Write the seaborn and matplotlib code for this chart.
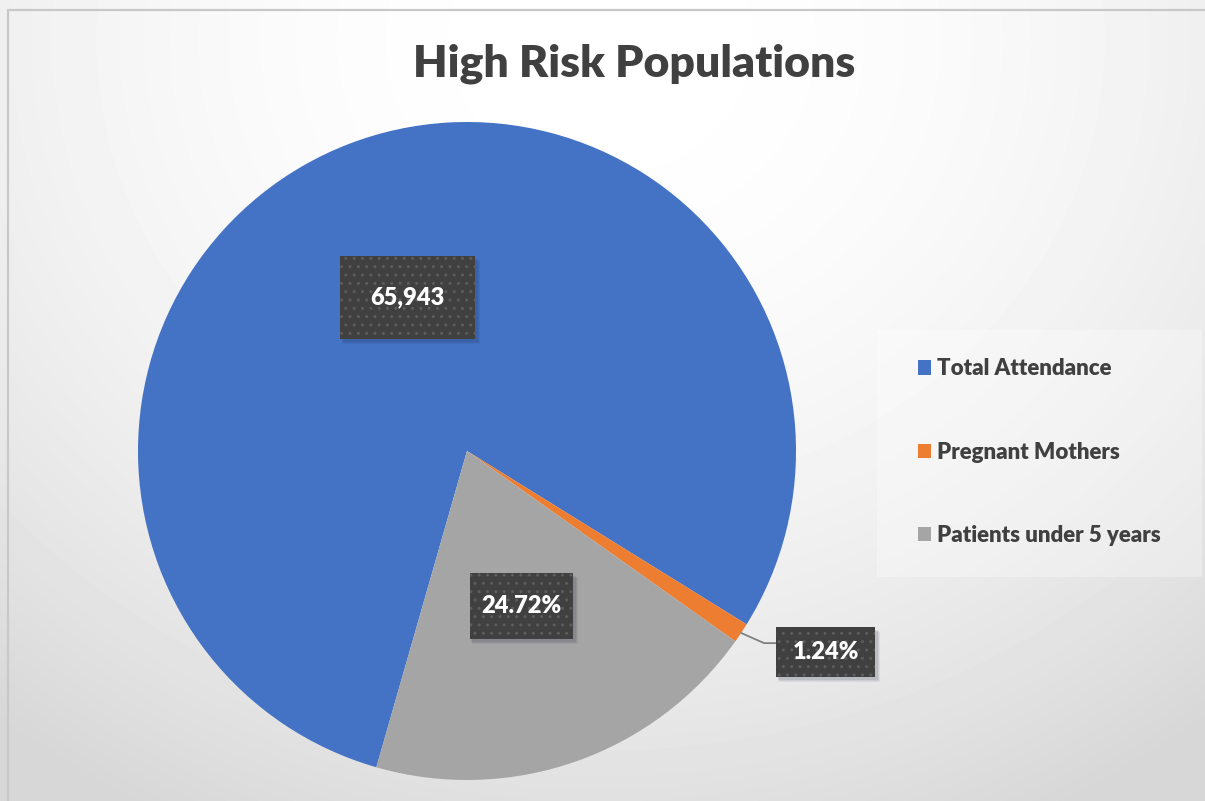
import matplotlib
matplotlib.use("Agg")
import matplotlib.pyplot as plt
import matplotlib.patches as mpatches
import matplotlib.transforms as mtransforms
import numpy as np
import seaborn as sns

# data
categories = ["Total Attendance", "Pregnant Mothers", "Patients under 5 years"]
counts = [65943, 818, 16301]
colors = ["#4472C4", "#ED7D31", "#A5A5A5"]

W, H = 1205, 801
sns.set_theme(style="white")
plt.rcParams["font.family"] = ["Lato", "DejaVu Sans"]

fig = plt.figure(figsize=(W / 100, H / 100), dpi=100)

# background: soft radial grey gradient, like the Excel chart area
bg = fig.add_axes([0, 0, 1, 1], zorder=0)
yy, xx = np.mgrid[0:H, 0:W]
drop = 15 * ((xx - 600) / 590) ** 2 + 30 * ((yy - 40) / 750) ** 2
drop = np.clip(drop, 0, 40)
grey = (255 - drop) / 255
bg.imshow(grey, cmap="gray", vmin=0, vmax=1, extent=(0, W, H, 0), aspect="auto")
bg.set_xlim(0, W)
bg.set_ylim(H, 0)
bg.plot([8, 8], [10, H], color="#c8c8c8", lw=1.6)
bg.plot([8, W], [10, 10], color="#c8c8c8", lw=1.6)
bg.add_patch(mpatches.Rectangle((877, 330), 325, 247, fc="white", ec="none", alpha=0.3))
bg.axis("off")

# pie
cx, cy, R = 467, 451, 329
ax = fig.add_axes([(cx - R) / W, (H - cy - R) / H, 2 * R / W, 2 * R / H], zorder=1)
wedges, _ = ax.pie(counts, colors=colors, startangle=-106, counterclock=False,
                   wedgeprops=dict(linewidth=0))
ax.set_xlim(-1, 1)
ax.set_ylim(-1, 1)
ax.set_aspect("auto")
ax.axis("off")

total_att = counts[0]
label_texts = [f"{counts[0]:,}",
               f"{counts[1] / total_att * 100:.2f}%",
               f"{counts[2] / total_att * 100:.2f}%"]
box_sizes = [(135, 83), (99, 50), (103, 66)]  # pixels


def label_box(x, y, text, size):
    bw, bh = size[0] / 100, size[1] / 100
    trans = fig.dpi_scale_trans + mtransforms.ScaledTranslation(x, y, ax.transData)
    for k, a in [(5, 0.06), (4, 0.08), (3, 0.1)]:
        ax.add_patch(mpatches.Rectangle((-bw / 2 + k / 200, -bh / 2 - k / 100), bw + k / 200, bh,
                                        transform=trans, fc="#1f2a44", ec="none",
                                        alpha=a, clip_on=False, zorder=3))
    ax.add_patch(mpatches.Rectangle((-bw / 2, -bh / 2), bw, bh, transform=trans,
                                    fc="#404040", ec="#5c5c5c", lw=0, hatch="..",
                                    clip_on=False, zorder=4))
    ax.text(x, y, text, ha="center", va="center", color="white", fontsize=17,
            fontweight="heavy", zorder=5, clip_on=False)


for i, w in enumerate(wedges):
    mid = np.deg2rad((w.theta1 + w.theta2) / 2)
    if i == 1:
        # small slice: label outside with leader line
        rx, ry = np.cos(mid), np.sin(mid)
        bx, by = 1.09, -0.611
        ax.plot([rx, 0.903, 0.95], [ry, -0.584, -0.584], color="#808080", lw=1.3,
                clip_on=False, zorder=2)
        label_box(bx, by, label_texts[i], box_sizes[i])
    else:
        label_box(0.5 * np.cos(mid), 0.5 * np.sin(mid), label_texts[i], box_sizes[i])

fig.text(634 / W, 1 - 76 / H, "High Risk Populations", ha="center", va="baseline",
         fontsize=32, fontweight="heavy", color="#404040")

leg = fig.legend(wedges, categories, loc="center left", bbox_to_anchor=(907 / W, 1 - 452 / H),
                 frameon=False, prop=dict(size=16, weight="heavy"),
                 handlelength=0.6, handleheight=0.6, handletextpad=0.27,
                 labelspacing=2.8, borderpad=0)
for t in leg.get_texts():
    t.set_color("#404040")

fig.savefig("out.png", dpi=100)
